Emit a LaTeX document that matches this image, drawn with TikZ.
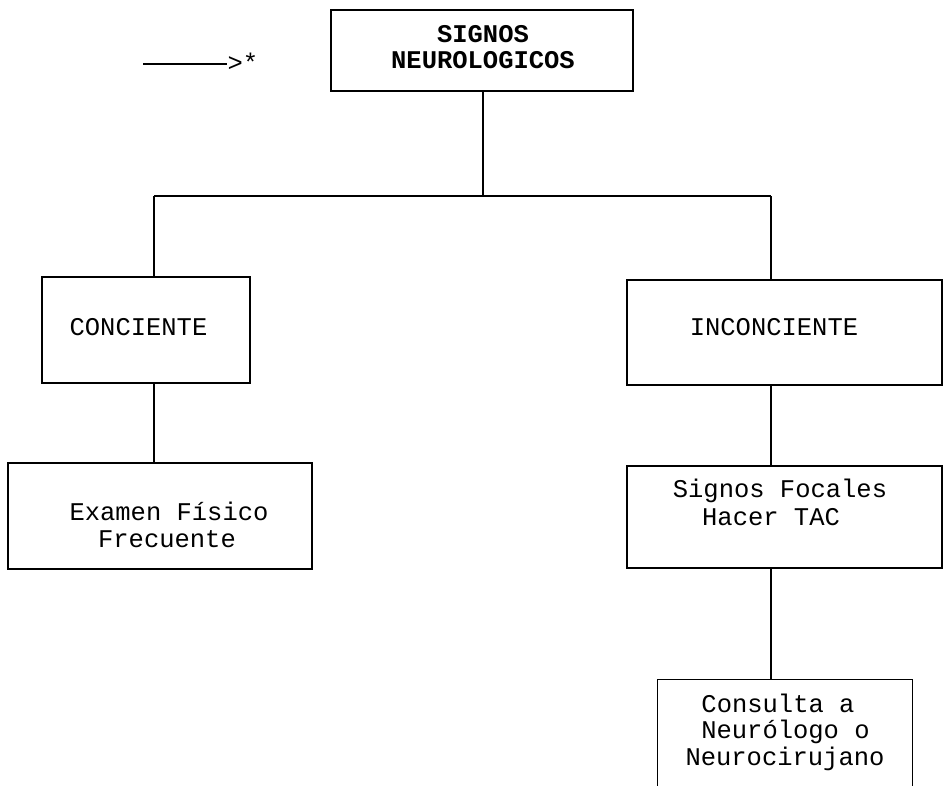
\documentclass[tikz,border=0pt]{standalone}
\usepackage{fontspec}
\setmonofont{Liberation Mono}
\begin{document}
\begin{tikzpicture}[x=1pt,y=-1pt,
  line width=1.1pt,
  boxnode/.style={draw=black, rectangle, inner sep=0pt, minimum width=#1},
  txt/.style={inner sep=0pt, anchor=base, font=\fontsize{25.5}{27}\ttfamily},
  btxt/.style={inner sep=0pt, anchor=base, font=\fontsize{25.5}{27}\ttfamily\bfseries},
  conn/.style={draw=black, line width=1.1pt}]
\useasboundingbox[fill=white] (0,0) rectangle (944,785);

% boxes
\node[boxnode=302pt, minimum height=81pt] (top) at (482,50.5) {};
\node[boxnode=208pt, minimum height=106pt] (conc) at (146,330) {};
\node[boxnode=315pt, minimum height=105pt] (inco) at (784.5,332.5) {};
\node[boxnode=304pt, minimum height=106pt] (exam) at (160,516) {};
\node[boxnode=315pt, minimum height=102pt] (foca) at (784.5,517) {};
\node[draw=none, rectangle, inner sep=0pt, minimum width=254pt, minimum height=110pt] (cons) at (785,735) {};
\draw (cons.south west) -- (cons.north west) -- (cons.north east) -- (cons.south east);

% texts
\node[btxt] (t1) at (483,42) {SIGNOS};
\node[btxt] (t2) at (483,68) {NEUROLOGICOS};
\node[txt] (t3) at (138.5,335) {CONCIENTE};
\node[txt] (t4) at (774,335) {INCONCIENTE};
\node[txt] (t5) at (169,520) {Examen Físico};
\node[txt] (t6) at (167,547) {Frecuente};
\node[txt] (t7) at (780,497) {Signos Focales};
\node[txt] (t8) at (771,525) {Hacer TAC};
\node[txt] (t9) at (778,712) {Consulta a};
\node[txt] (t10) at (785.5,738) {Neurólogo o};
\node[txt] (t11) at (785,765) {Neurocirujano};

% arrow  ---->*
\node[txt, anchor=base west] (arr) at (227,71) {>*};
\coordinate (s) at (143,64);
\draw[conn] (s) -- (s -| arr.west);

% connectors
\coordinate (j) at (483,196);
\coordinate (jl) at (154,196);
\coordinate (jr) at (771,196);
\draw[conn] (top.south -| j) -- (j);
\draw[conn] (jl) -- (jr);
\draw[conn] (jl) -- (jl |- conc.north);
\draw[conn] (jr) -- (jr |- inco.north);
\draw[conn] (conc.south -| jl) -- (exam.north -| jl);
\draw[conn] (inco.south -| jr) -- (foca.north -| jr);
\draw[conn] (foca.south -| jr) -- (cons.north -| jr);
\end{tikzpicture}
\end{document}
